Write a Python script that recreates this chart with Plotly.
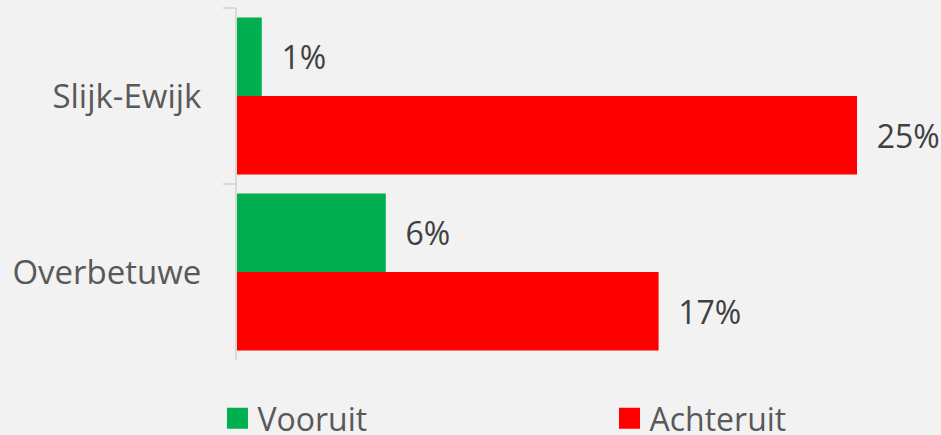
import plotly.graph_objects as go

categories = ["Slijk-Ewijk", "Overbetuwe"]
vooruit = [1, 6]
achteruit = [25, 17]
series_names = ["Vooruit", "Achteruit"]
colors = ["#00B050", "#FF0000"]

FONT = "Open Sans"
fig = go.Figure()
for name, vals, col in zip(series_names, [vooruit, achteruit], colors):
    fig.add_trace(go.Bar(
        y=categories, x=vals, orientation="h", name=name,
        marker=dict(color=col, line=dict(width=0)),
        text=["\u00a0\u00a0" + f"{v}%" for v in vals],
        textposition="outside", cliponaxis=False, constraintext="none",
        textfont=dict(family=FONT, size=32, color="#404040"),
        showlegend=False, hoverinfo="skip",
    ))
# legend entries (one legend per entry for exact placement)
legend_ids = ["legend", "legend2"]
for name, col, lid in zip(series_names, colors, legend_ids):
    fig.add_trace(go.Scatter(
        x=[None], y=[None], mode="markers", name=name, legend=lid,
        marker=dict(symbol="square", size=16, color=col, line=dict(color=col, width=5)),
        showlegend=True,
    ))

leg_common = dict(
    orientation="h", xref="container", yref="container",
    xanchor="left", y=0.038, yanchor="middle",
    font=dict(family=FONT, size=32, color="#595959"),
    bgcolor="rgba(0,0,0,0)", itemsizing="trace",
)

fig.update_layout(
    width=941, height=435,
    margin=dict(l=237, r=84, t=8, b=75, autoexpand=False),
    paper_bgcolor="#F2F2F2", plot_bgcolor="#F2F2F2",
    barmode="group", bargap=0.108, bargroupgap=0,
    font=dict(family=FONT, size=32, color="#595959"),
    showlegend=True,
    legend=dict(x=0.2311, **leg_common),
    legend2=dict(x=0.6477, **leg_common),
    xaxis=dict(range=[0, 25], visible=False, fixedrange=True),
    yaxis=dict(
        type="category", categoryorder="array", categoryarray=categories,
        range=[1.5, -0.5], showline=True, linecolor="#D9D9D9", linewidth=2,
        ticks="outside", ticklen=12, tickcolor="#D9D9D9", tickwidth=2,
        tickson="boundaries", showgrid=False, zeroline=False, fixedrange=True,
        ticklabelstandoff=27,
        tickfont=dict(family=FONT, size=33, color="#595959"),
    ),
)
fig.write_html("out.html", config={"displayModeBar": False},
               post_script="document.body.style.margin='0';")
